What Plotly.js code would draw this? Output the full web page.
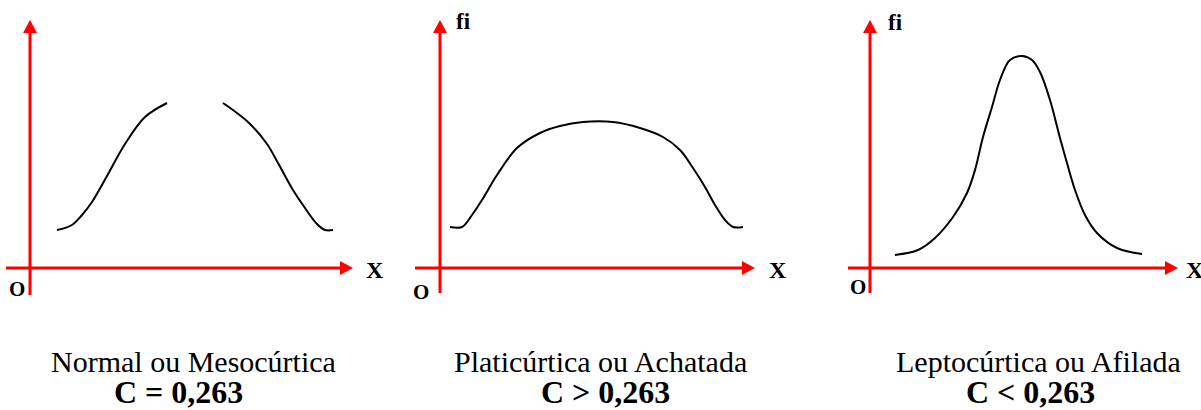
<!DOCTYPE html>
<html>
<head>
<meta charset="utf-8">
<script src="https://cdn.plot.ly/plotly-3.0.1.min.js"></script>
<style>
  html, body { margin: 0; padding: 0; background: #ffffff; }
  #chart { width: 1201px; height: 410px; }
</style>
</head>
<body>
<div id="chart"></div>
<script>
// Frequency curves (x = class value, fi = frequency), one per kurtosis type
const mesoX  = [27, 42, 52, 62, 77, 95, 115, 137, null, 193, 218, 237, 248, 263, 275, 287, 295, 303];
const mesoY  = [38, 43, 53, 66, 92, 124, 151, 165, null, 165, 146, 124, 105, 78, 60, 44, 38, 38];

const platiX = [10, 22, 32, 42, 57, 77, 100, 120, 143, 173, 200, 223, 240, 253, 265, 275, 285, 293, 303];
const platiY = [41, 41, 53, 68, 93, 120, 135, 142, 146, 146, 140, 131, 118, 100, 81, 63, 48, 41, 41];

const leptoX = [25, 48, 65, 83, 97, 105, 113, 122, 130, 140, 152, 162, 170, 180, 190, 197, 205, 215, 227, 247, 272];
const leptoY = [13, 18, 30, 51, 75, 98, 131, 161, 188, 208, 212, 208, 196, 168, 130, 105, 78, 53, 35, 20, 14];

// Captions
const names     = ["Normal ou Mesocúrtica", "Platicúrtica ou Achatada", "Leptocúrtica ou Afilada"];
const criteria  = ["C = 0,263", "C > 0,263", "C < 0,263"];
const showFi    = [false, true, true];

const W = 1201, H = 410;
const ORIGIN_Y = 268;   // pixel row of the horizontal axis

// Per-panel geometry (pixel units): origin column, subplot span, axis extents
const panels = [
  { ox: 30,  left: 0,   right: 400,  xStart: -24, xTip: 323, yBottom: -27, yTip: 248,
    xLbl: 345, oLbl: [-13, -21], fiLbl: null,      cap1: 193,  cap2: 178 },
  { ox: 440, left: 400, right: 820,  xStart: -25, xTip: 315, yBottom: -25, yTip: 248,
    xLbl: 338, oLbl: [-19, -24], fiLbl: [23, 247], cap1: 600,  cap2: 605 },
  { ox: 870, left: 820, right: 1201, xStart: -22, xTip: 308, yBottom: -25, yTip: 248,
    xLbl: 325, oLbl: [-12, -19], fiLbl: [25, 246], cap1: 1038, cap2: 1030 }
];

const curves = [[mesoX, mesoY], [platiX, platiY], [leptoX, leptoY]];
const RED = "#ff0000";
const HEAD = 13, HALF = 7;
const serif = "Liberation Serif, Times New Roman, serif";

const data = [];
const shapes = [];
const annotations = [];
const layout = {
  width: W, height: H, autosize: false,
  margin: { l: 0, r: 0, t: 0, b: 0, pad: 0 },
  paper_bgcolor: "#ffffff", plot_bgcolor: "#ffffff",
  showlegend: false,
  shapes: shapes, annotations: annotations
};

const boldFont = size => ({ family: serif, size: size, color: "#000000", weight: "bold" });

panels.forEach((p, i) => {
  const n = i === 0 ? "" : String(i + 1);
  const xr = "x" + n, yr = "y" + n;

  layout["xaxis" + n] = {
    domain: [p.left / W, p.right / W],
    range: [p.left - p.ox, p.right - p.ox],
    anchor: yr, visible: false, fixedrange: true
  };
  layout["yaxis" + n] = {
    domain: [0, 1],
    range: [ORIGIN_Y - H, ORIGIN_Y],
    anchor: xr, visible: false, fixedrange: true
  };

  data.push({
    type: "scatter", mode: "lines",
    x: curves[i][0], y: curves[i][1],
    xaxis: xr, yaxis: yr,
    connectgaps: false,
    line: { color: "#000000", width: 2, shape: "spline", smoothing: 1 },
    hoverinfo: "skip"
  });

  // vertical axis with arrowhead
  shapes.push({ type: "line", xref: xr, yref: yr, x0: 0, x1: 0, y0: p.yBottom, y1: p.yTip - HEAD,
    line: { color: RED, width: 3 } });
  shapes.push({ type: "path", xref: xr, yref: yr,
    path: `M ${-HALF} ${p.yTip - HEAD} L ${HALF} ${p.yTip - HEAD} L 0 ${p.yTip} Z`,
    fillcolor: RED, line: { color: RED, width: 0 } });
  // horizontal axis with arrowhead
  shapes.push({ type: "line", xref: xr, yref: yr, x0: p.xStart, x1: p.xTip - HEAD, y0: 0, y1: 0,
    line: { color: RED, width: 3 } });
  shapes.push({ type: "path", xref: xr, yref: yr,
    path: `M ${p.xTip - HEAD} ${-HALF} L ${p.xTip - HEAD} ${HALF} L ${p.xTip} 0 Z`,
    fillcolor: RED, line: { color: RED, width: 0 } });

  annotations.push({ xref: xr, yref: yr, x: p.xLbl, y: -2, text: "<b>X</b>", showarrow: false,
    xanchor: "center", yanchor: "middle", font: boldFont(24) });
  annotations.push({ xref: xr, yref: yr, x: p.oLbl[0], y: p.oLbl[1], text: "<b>O</b>", showarrow: false,
    xanchor: "center", yanchor: "middle", font: boldFont(21) });
  if (showFi[i]) {
    annotations.push({ xref: xr, yref: yr, x: p.fiLbl[0], y: p.fiLbl[1], text: "<b>fi</b>", showarrow: false,
      xanchor: "center", yanchor: "middle", font: boldFont(23) });
  }

  annotations.push({ xref: "paper", yref: "paper", x: p.cap1 / W, y: 1 - 361 / H,
    text: names[i], showarrow: false, xanchor: "center", yanchor: "middle",
    font: { family: serif, size: 30, color: "#000000" } });
  annotations.push({ xref: "paper", yref: "paper", x: p.cap2 / W, y: 1 - 392 / H,
    text: "<b>" + criteria[i] + "</b>", showarrow: false, xanchor: "center", yanchor: "middle",
    font: boldFont(32) });
});

Plotly.newPlot("chart", data, layout, { staticPlot: true, displayModeBar: false });
</script>
</body>
</html>
